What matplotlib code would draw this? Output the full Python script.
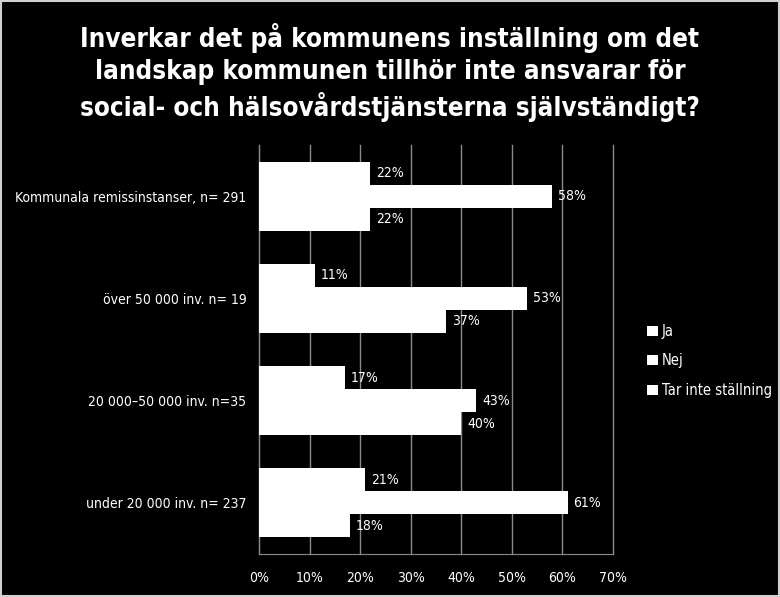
#!/usr/bin/env python3

import numpy as np
import matplotlib
matplotlib.use('Agg')
from matplotlib import pyplot as plt
from matplotlib.patches import Rectangle

## data
categories = ['Kommunala remissinstanser, n= 291',
              'över 50 000 inv. n= 19',
              '20 000–50 000 inv. n=35',
              'under 20 000 inv. n= 237']
ja = [22, 11, 17, 21]
nej = [58, 53, 43, 61]
tar_inte = [22, 37, 40, 18]
series_names = ['Ja', 'Nej', 'Tar inte ställning']
xticks = [0, 10, 20, 30, 40, 50, 60, 70]

title = ('Inverkar det på kommunens inställning om det\n'
         'landskap kommunen tillhör inte ansvarar för\n'
         'social- och hälsovårdstjänsterna självständigt?')

plt.rcParams['font.family'] = ['DejaVu Sans']

fig = plt.figure(figsize=(7.8, 5.97), dpi=100, facecolor='black')
ax = fig.add_axes([0.332, 0.072, 0.454, 0.685], facecolor='black')

## white frame round the slide
fig.patches.append(Rectangle((0.001, 0.001), 0.998, 0.998, transform=fig.transFigure,
                             fill=False, ec='#d0d0d0', lw=1.5))

y = np.arange(len(categories))
h = 0.225
for k, (vals, off) in enumerate(zip([ja, nej, tar_inte], [-h, 0, h])):
    ax.barh(y + off, vals, height=h, color='white', edgecolor='none', zorder=3,
            label=series_names[k])
    for yy, v in zip(y + off, vals):
        ax.text(v + 1.2, yy, '%d%%' % v, color='white', va='center', ha='left',
                fontsize=10, fontstretch='condensed', zorder=4)

ax.set_ylim(len(categories) - 0.5, -0.5)
ax.set_xlim(0, 70)
ax.set_xticks(xticks)
ax.set_xticklabels(['%d%%' % t for t in xticks], color='white', fontsize=10,
                   fontstretch='condensed')
ax.set_yticks(y)
ax.set_yticklabels(categories, color='white', fontsize=10, fontstretch='condensed')
ax.tick_params(axis='y', length=0, pad=9)
ax.tick_params(axis='x', length=0, pad=12)
ax.grid(axis='x', color='#8a8a8a', lw=1, zorder=1)
for gl in ax.get_xgridlines():
    gl.set_clip_on(False)
for s in ['top', 'right']:
    ax.spines[s].set_visible(False)
for s in ['left', 'bottom']:
    ax.spines[s].set_color('#8a8a8a')

leg = ax.legend(loc='center left', bbox_to_anchor=(1.06, 0.472), frameon=False,
                handlelength=0.7, handleheight=0.7, handletextpad=0.3,
                labelspacing=1.0, fontsize=10.5)
for t in leg.get_texts():
    t.set_color('white')
    t.set_fontstretch('condensed')

fig.text(0.5, 0.878, title, color='white', ha='center', va='center',
         fontsize=18.6, fontweight='bold', fontstretch='condensed', linespacing=1.3)

fig.savefig('out.png', dpi=100, facecolor='black')
